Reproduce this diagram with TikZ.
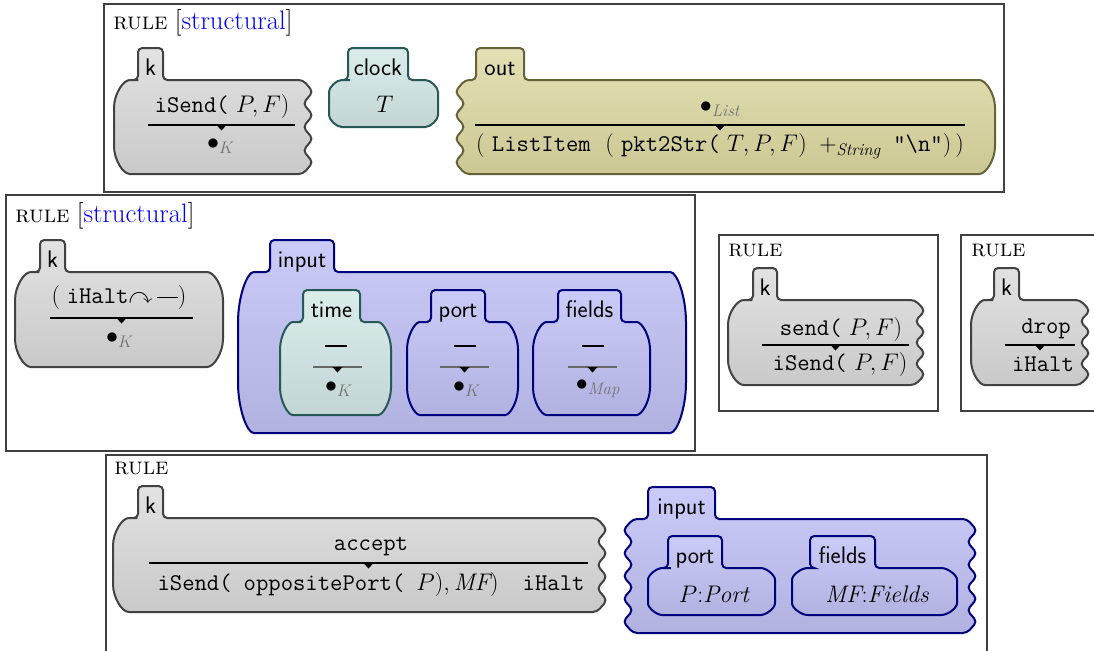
\RequirePackage{fix-cm}
\documentclass[tikz,border=0pt]{standalone}
\usepackage{amssymb}
\usepackage{fontspec}
\definecolor{gtop}{HTML}{E2E2E2}
\definecolor{gbot}{HTML}{C9C9C9}
\definecolor{gdraw}{HTML}{424242}
\definecolor{ttop}{HTML}{DAEDEB}
\definecolor{tbot}{HTML}{C3D5D5}
\definecolor{tdraw}{HTML}{275A57}
\definecolor{otop}{HTML}{E3E1B5}
\definecolor{obot}{HTML}{CCC894}
\definecolor{odraw}{HTML}{66633A}
\definecolor{btop}{HTML}{CBCBFA}
\definecolor{bbot}{HTML}{B2B2E0}
\definecolor{bdraw}{HTML}{00007F}
\definecolor{subgray}{gray}{0.45}

\newcommand\setcell[4]{%
  \pgfmathsetmacro\xa{#1}\pgfmathsetmacro\xb{#2}%
  \pgfmathsetmacro\yt{#3}\pgfmathsetmacro\yb{#4}%
  \pgfmathsetmacro\hh{#4-#3}%
  \pgfmathsetmacro\rx{min(20,0.1*(#2-#1)+6)}%
  \pgfmathsetmacro\ry{min(0.34*\hh,58)}%
  \pgfmathtruncatemacro\nb{max(2,round(\hh/24))}%
  \pgfmathsetmacro\bs{\hh/(2*\nb)}%
  \pgfmathtruncatemacro\nm{2*\nb-1}%
  \pgfmathsetmacro\dep{10}%
  \pgfmathsetmacro\xbr{\xb-\rx}\pgfmathsetmacro\xbc{\xb-0.45*\rx}%
  \pgfmathsetmacro\xar{\xa+\rx}\pgfmathsetmacro\xac{\xa+0.45*\rx}%
  \pgfmathsetmacro\ytr{\yt+\ry}\pgfmathsetmacro\ytc{\yt+0.45*\ry}%
  \pgfmathsetmacro\ybr{\yb-\ry}\pgfmathsetmacro\ybc{\yb-0.45*\ry}%
  \pgfmathsetmacro\xbi{\xb-\dep}\pgfmathsetmacro\xai{\xa+\dep}%
}
% #1 style, #2 left type, #3 right type, #4 x1, #5 x2, #6 body top, #7 bottom, #8 tab x1, #9 tab x2
\newcommand\kcell[9]{%
  \setcell{#4}{#5}{#6}{#7}%
  \path[#1] (#8,#6) -- (#8,{#6-32}) -- (#9,{#6-32}) -- (#9,#6) [right#3] [left#2] -- cycle;%
}
\newcommand\kline[4][krule]{%
  \draw[#1] (#2,#4) -- (#3,#4);
  \fill[black] ({(#2+#3)/2-5},#4) -- ({(#2+#3)/2+5},#4) -- ({(#2+#3)/2},{#4+5.5}) -- cycle;%
}
\newcommand\anyvar{\rule[4.6pt]{16pt}{0.9pt}}

\begin{document}
\begin{tikzpicture}[x=0.75pt,y=-0.75pt,
  rightR/.style={insert path={-- (\xbr,\yt) .. controls (\xbc,\yt) and (\xb,\ytc) .. (\xb,\ytr) -- (\xb,\ybr) .. controls (\xb,\ybc) and (\xbc,\yb) .. (\xbr,\yb)}},
  rightW/.style={insert path={-- (\xbi,\yt) \foreach \i in {1,...,\nm}{ -- ({\xbi+mod(\i,2)*\dep},{\yt+\i*\bs}) } -- (\xbi,\yb)}},
  leftR/.style={insert path={-- (\xar,\yb) .. controls (\xac,\yb) and (\xa,\ybc) .. (\xa,\ybr) -- (\xa,\ytr) .. controls (\xa,\ytc) and (\xac,\yt) .. (\xar,\yt)}},
  leftW/.style={insert path={-- (\xai,\yb) \foreach \i in {\nm,...,1}{ -- ({\xa+\dep-mod(\i,2)*\dep},{\yt+\i*\bs}) } -- (\xai,\yt)}},
  cellbase/.style={line width=1.5pt, rounded corners=3.2pt},
  cgray/.style={cellbase, draw=gdraw, top color=gtop, bottom color=gbot},
  cteal/.style={cellbase, draw=tdraw, top color=ttop, bottom color=tbot},
  colive/.style={cellbase, draw=odraw, top color=otop, bottom color=obot},
  cblue/.style={cellbase, draw=bdraw, top color=btop, bottom color=bbot},
  rulebox/.style={draw=black!75, line width=0.8pt},
  hdr/.style={inner sep=0pt, anchor=base west, font=\fontsize{18}{20}\selectfont},
  tabl/.style={inner sep=0pt, anchor=base, font=\sffamily\fontsize{18}{20}\selectfont},
  ct/.style={inner sep=0pt, font=\fontsize{18}{21}\selectfont},
  krule/.style={draw=black, line width=0.8pt},
  kruleg/.style={draw=black!60, line width=1.6pt},
]
\useasboundingbox (0,0) rectangle (1094,650);
\clip (0,0) rectangle (1094,650);

% ---------- rule boxes ----------
\draw[rulebox] (104,4) rectangle (1004,192);
\draw[rulebox] (6,195) rectangle (695,451);
\draw[rulebox] (719,235) rectangle (938,411);
\draw[rulebox] (961,235) rectangle (1130,411);
\draw[rulebox] (106,455) rectangle (987,680);

\node[hdr] (h1) at (113,29) {\textsc{rule} {\fontsize{20}{22}\selectfont[{\color{blue}structural}]}};
\node[hdr] (h2) at (15,222) {\textsc{rule} {\fontsize{20}{22}\selectfont[{\color{blue}structural}]}};
\node[hdr] (h3) at (728,256) {\textsc{rule}};
\node[hdr] (h4) at (971,256) {\textsc{rule}};
\node[hdr] (h5) at (114,474) {\textsc{rule}};

% ---------- rule 1 ----------
\kcell{cgray}{R}{W}{114}{313}{80}{174}{138}{163}
\node[tabl] (k1lab) at (150.5,75) {k};
\node[ct] (k1a) at (222,106) {{\ttfamily iSend(}~$P,F)$};
\kline{148}{295}{125}
\node[ct] (k1b) at (221,146) {$\bullet_{\color{subgray}K}$};

\kcell{cteal}{R}{R}{329}{438}{80}{127}{348}{408}
\node[tabl] (clocklab) at (378,75) {clock};
\node[ct] (clockT) at (385,104) {$T$};

\kcell{colive}{W}{R}{455}{995}{80}{174}{476}{524}
\node[tabl] (outlab) at (500,75) {out};
\node[ct] (outa) at (720,109) {$\bullet_{\color{subgray}\mathit{List}}$};
\kline{475}{965}{125}
\node[ct] (outb) at (720,146) {(\ {\ttfamily ListItem}\ \ (\ {\ttfamily pkt2Str(}\ $T,P,F)\ +_{\mathit{String}}\ \mbox{\ttfamily "\textbackslash n"})\,)$};

% ---------- rule 2 ----------
\kcell{cgray}{R}{R}{15}{223}{272}{367}{40}{65}
\node[tabl] (k2lab) at (52.5,267) {k};
\node[ct] (k2a) at (119,298) {(\;{\ttfamily iHalt}$\curvearrowright$\,\anyvar)};
\kline{50}{193}{318}
\node[ct] (k2b) at (120,340) {$\bullet_{\color{subgray}K}$};

\kcell{cblue}{R}{R}{238}{686}{272}{433}{270}{334}
\node[tabl] (inlab) at (302,267) {input};

\kcell{cteal}{R}{R}{280}{391}{322}{415}{303}{360}
\node[tabl] (timelab) at (331.5,317) {time};
\node[ct] (timea) at (336,349) {\anyvar};
\kline[kruleg]{313}{362}{367}
\node[ct] (timeb) at (339,389) {$\bullet_{\color{subgray}K}$};

\kcell{cblue}{R}{R}{407}{518}{322}{415}{431}{485}
\node[tabl] (portlab) at (458,317) {port};
\node[ct] (porta) at (465,349) {\anyvar};
\kline[kruleg]{440}{489}{367}
\node[ct] (portb) at (467,389) {$\bullet_{\color{subgray}K}$};

\kcell{cblue}{R}{R}{533}{650}{322}{415}{558}{621}
\node[tabl] (fieldslab) at (589.5,317) {fields};
\node[ct] (fieldsa) at (593,349) {\anyvar};
\kline[kruleg]{568}{617}{367}
\node[ct] (fieldsb) at (598,389) {$\bullet_{\color{subgray}\mathit{Map}}$};

% ---------- rule 3 ----------
\kcell{cgray}{R}{W}{728}{925}{300}{385}{753}{777}
\node[tabl] (k3lab) at (765,295) {k};
\node[ct] (k3a) at (841,329) {{\ttfamily send(}~$P,F)$};
\kline{762}{909}{345}
\node[ct] (k3b) at (840,364) {{\ttfamily iSend(}~$P,F)$};

% ---------- rule 4 ----------
\kcell{cgray}{R}{W}{971}{1090}{300}{385}{994}{1019}
\node[tabl] (k4lab) at (1006.5,295) {k};
\node[ct] (k4a) at (1046,329) {\ttfamily drop};
\kline{1005}{1075}{345}
\node[ct] (k4b) at (1043,364) {\ttfamily iHalt};

% ---------- rule 5 ----------
\kcell{cgray}{R}{W}{113}{607}{518}{612}{138}{163}
\node[tabl] (k5lab) at (150.5,513) {k};
\node[ct] (k5a) at (371,547) {\ttfamily accept};
\kline{149}{588}{563}
\node[ct] (k5b) at (371,584) {{\ttfamily iSend(}\enspace{\ttfamily oppositePort(}\enspace$P),\mathit{MF})$\quad{\ttfamily iHalt}};

\kcell{cblue}{W}{W}{623}{977}{519}{633}{648}{715}
\node[tabl] (in5lab) at (681.5,514) {input};

\kcell{cblue}{R}{R}{648}{775}{568}{615}{668}{722}
\node[tabl] (port5lab) at (695,563) {port};
\node[ct] (port5a) at (714,594) {$P\mathord{:}\mathit{Port}$};

\kcell{cblue}{R}{R}{792}{957}{568}{615}{810}{875}
\node[tabl] (fields5lab) at (842.5,563) {fields};
\node[ct] (fields5a) at (877,594) {$\mathit{MF}\mathord{:}\mathit{Fields}$};
\end{tikzpicture}
\end{document}
